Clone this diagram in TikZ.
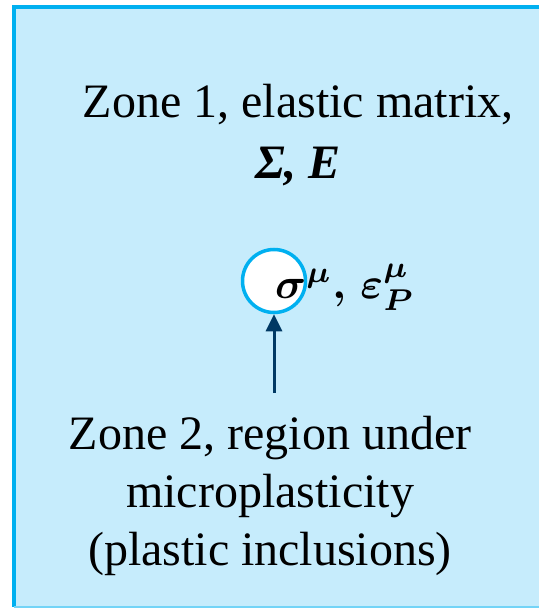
\documentclass[tikz,border=0pt]{standalone}
\usepackage{fontspec}
\setmainfont{Liberation Serif}
\usepackage{amsmath,bm}
\usetikzlibrary{arrows.meta, positioning}
\definecolor{zoneblue}{RGB}{198, 236, 252}
\definecolor{rimblue}{RGB}{0, 176, 240}
\definecolor{arrownavy}{RGB}{0, 57, 100}

\begin{document}
\begin{tikzpicture}[x=1pt, y=-1pt,
  zonetext/.style={align=center, inner sep=0pt, anchor=north},
  pointer/.style={-{Triangle[length=17pt, width=16pt]}, line width=3pt, arrownavy}]
\useasboundingbox (0,0) rectangle (539,609);
% matrix region
\fill[zoneblue] (14,7) rectangle (539,607);
\draw[rimblue, line width=3.5pt] (539,7) -- (14,7) -- (14,607);
\draw[rimblue!55, line width=2pt] (14,607) -- (539,607);
% inclusion
\node[circle, draw=rimblue, line width=3.5pt, fill=white, minimum size=63pt, inner sep=0pt] (inclusion) at (274,281) {};
\node[anchor=base west, inner sep=0pt] (micro) at (275,298)
  {\scalebox{4.3}{$\bm{\sigma}^{\bm{\mu}}\bm{,}\,\bm{\varepsilon}_{\bm{P}}^{\bm{\mu}}$}};
% zone labels
\node[zonetext, font=\fontsize{48}{61}\selectfont] (zone1) at (298,84)
  {Zone 1, elastic matrix,\\ {\bfseries\itshape Σ, E}};
\node[zonetext, font=\fontsize{48}{58}\selectfont] (zone2) at (270,416)
  {Zone 2, region under\\ microplasticity\\ (plastic inclusions)};
\draw[pointer, shorten <=23pt] (zone2.north -| inclusion.south) -- (inclusion.south);
\end{tikzpicture}
\end{document}
